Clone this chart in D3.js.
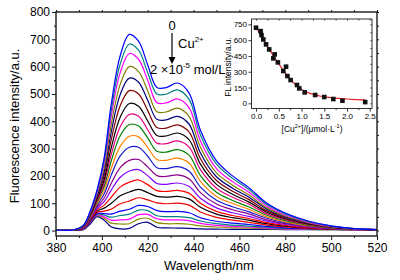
<!DOCTYPE html>
<html>
<head>
<meta charset="utf-8">
<script src="https://cdn.jsdelivr.net/npm/d3@7"></script>
<style>
  html, body { margin: 0; padding: 0; background: #fff; }
  svg { display: block; font-family: "Liberation Sans", Arial, sans-serif; }
</style>
</head>
<body>
<div id="chart"></div>
<script>
// ---- fluorescence spectra, top curve (0 Cu2+) to bottom ----
const WAVELENGTHS = [380,388,392,395,398,401,404,408,412,416,420,424,428,433,438,443,450,457,464,472,480,490,500,510,520];

const SPECTRA = [
  [2,3,20,73,152,266,457,640,718,693,606,524,523,540,504,367,255,200,158,100,64,35,17,7,3],
  [2,3,20,71,147,255,435,609,683,660,578,500,499,515,481,350,243,191,151,95,61,33,16,7,3],
  [2,3,19,69,142,244,413,578,648,627,550,468,467,482,450,328,227,179,141,89,57,31,15,7,3],
  [2,3,18,66,135,229,384,535,600,582,511,435,434,448,418,305,211,166,131,83,53,29,14,7,3],
  [2,3,17,63,130,215,357,498,558,543,477,407,405,418,390,284,197,155,123,78,50,28,14,6,3],
  [2,3,16,60,123,201,329,457,512,500,439,377,375,387,361,263,183,144,114,72,46,26,13,6,3],
  [2,3,15,58,117,186,300,415,465,455,401,348,346,357,333,243,169,133,105,67,43,24,12,6,3],
  [2,3,14,55,111,173,275,380,425,418,369,320,318,328,306,223,155,122,97,61,40,22,11,6,3],
  [2,3,14,53,106,161,252,347,388,383,339,290,287,296,276,201,140,110,87,56,36,20,10,5,3],
  [2,3,13,50,100,147,225,308,345,343,304,260,257,265,247,180,125,99,78,50,32,18,10,5,3],
  [2,3,12,48,94,134,201,273,305,305,272,230,227,234,218,159,111,87,69,45,29,17,9,5,3],
  [2,3,11,45,87,119,171,230,257,260,233,201,198,204,190,139,97,76,61,39,25,15,8,5,3],
  [2,3,10,43,82,106,147,195,218,223,201,172,169,174,162,118,83,65,52,34,22,13,7,4,3],
  [2,3,9,40,76,93,121,159,177,185,168,146,143,147,137,100,70,55,44,29,19,11,7,4,3],
  [2,3,9,38,71,82,99,127,141,151,139,125,122,125,116,85,60,47,38,25,16,10,6,4,3],
  [2,3,8,36,67,71,78,98,108,120,112,101,98,100,93,68,48,38,30,20,13,8,5,3,3],
  [2,3,7,34,62,62,60,71,78,92,88,73,69,70,65,47,34,27,22,15,10,7,5,3,3],
  [2,3,7,33,60,56,49,55,60,75,73,54,51,51,47,35,25,20,16,12,8,6,4,3,3],
  [2,3,7,32,57,50,38,39,42,58,59,43,39,39,36,26,19,15,13,9,6,5,4,3,3],
  [2,3,6,31,55,45,27,24,25,42,45,29,25,25,23,17,13,10,9,7,5,4,3,3,3],
  [1,1,3,25,51,38,14,6,8,25,30,12,10,9,8,6,5,4,4,4,3,3,3,3,3]
];

const COLORS = [
  "#0000ff","#008080","#ff00ff","#808000","#000080","#800000","#000000",
  "#e6007e","#008000","#ff8000","#1a1acd","#8b008b","#8000ff","#ff0000",
  "#000000","#ee0000","#0000ff","#008080","#ff00ff","#8c8c00","#000080"
];

const X_TICKS = [380,400,420,440,460,480,500,520];
const Y_TICKS = [0,100,200,300,400,500,600,700,800];

// ---- inset: FL intensity vs [Cu2+] ----
const INSET_CONC = [0,0.1,0.12,0.16,0.22,0.29,0.38,0.41,0.48,0.6,0.66,0.69,0.76,0.9,0.95,1.07,1.3,1.5,1.7,1.9,2.4];
const INSET_FL   = [718,686,648,607,560,512,427,465,389,307,348,259,221,174,142,104,79,60,41,25,12];
const FIT_CONC   = [0,0.1,0.2,0.3,0.4,0.5,0.6,0.7,0.8,0.9,1.0,1.2,1.4,1.6,1.8,2.0,2.2,2.4];
const FIT_FL     = [722,650,578,508,440,375,313,257,207,165,132,92,70,56,47,41,36,32];
const INSET_X_TICKS = [0,0.5,1.0,1.5,2.0,2.5];
const INSET_Y_TICKS = [0,150,300,450,600,750];

const W = 400, H = 280;
const AXIS = "#1a1a1a";

const svg = d3.select("#chart").append("svg")
  .attr("width", W)
  .attr("height", H);

drawMain();
drawInset();

function drawMain() {
  const x = d3.scaleLinear().domain([380, 520]).range([56, 377]);
  const y = d3.scaleLinear().domain([-20, 800]).range([236, 12]);

  const line = d3.line()
    .x((d, i) => x(WAVELENGTHS[i]))
    .y(d => y(d))
    .curve(d3.curveCatmullRom.alpha(0.5));

  const g = svg.append("g");

  // curves, bottom first
  for (let i = SPECTRA.length - 1; i >= 0; i--) {
    g.append("path")
      .attr("d", line(SPECTRA[i]))
      .attr("fill", "none")
      .attr("stroke", COLORS[i])
      .attr("stroke-width", 1.2);
  }

  // frame
  svg.append("rect")
    .attr("x", 56).attr("y", 12)
    .attr("width", 321).attr("height", 224)
    .attr("fill", "none")
    .attr("stroke", AXIS)
    .attr("stroke-width", 1.4);

  // bottom axis
  const xAxis = svg.append("g")
    .attr("transform", "translate(0,236)")
    .call(d3.axisBottom(x).tickValues(X_TICKS).tickSize(4).tickPadding(3).tickSizeOuter(0));
  svg.append("g")
    .attr("transform", "translate(0,236)")
    .call(d3.axisBottom(x).tickValues(d3.range(390, 520, 20)).tickSize(2).tickFormat("").tickSizeOuter(0));

  // left axis
  const yAxis = svg.append("g")
    .attr("transform", "translate(56,0)")
    .call(d3.axisLeft(y).tickValues(Y_TICKS).tickSize(4).tickPadding(2).tickSizeOuter(0));
  svg.append("g")
    .attr("transform", "translate(56,0)")
    .call(d3.axisLeft(y).tickValues(d3.range(50, 800, 100)).tickSize(2).tickFormat("").tickSizeOuter(0));

  // mirrored ticks top / right
  svg.append("g")
    .attr("transform", "translate(0,12)")
    .call(d3.axisTop(x).tickValues(d3.range(380, 521, 10)).tickSize(2).tickFormat("").tickSizeOuter(0));
  svg.append("g")
    .attr("transform", "translate(377,0)")
    .call(d3.axisRight(y).tickValues(d3.range(0, 801, 50)).tickSize(2).tickFormat("").tickSizeOuter(0));

  svg.selectAll(".domain").remove();
  svg.selectAll(".tick line").attr("stroke", AXIS).attr("stroke-width", 1);
  xAxis.selectAll("text").attr("font-size", 12).attr("fill", "#000")
    .attr("font-family", "Liberation Sans, Arial, sans-serif");
  yAxis.selectAll("text").attr("font-size", 12).attr("fill", "#000")
    .attr("font-family", "Liberation Sans, Arial, sans-serif");

  // axis titles
  svg.append("text")
    .attr("x", 209).attr("y", 270)
    .attr("text-anchor", "middle")
    .attr("font-size", 13)
    .text("Wavelength/nm");

  svg.append("text")
    .attr("transform", "translate(19,126) rotate(-90)")
    .attr("text-anchor", "middle")
    .attr("font-size", 13)
    .text("Fluorescence intensity/a.u.");

  // annotation: 0 -> Cu2+ -> 2x10-5 mol/L
  svg.append("text")
    .attr("x", 172).attr("y", 30)
    .attr("text-anchor", "middle")
    .attr("font-size", 13)
    .text("0");

  svg.append("line")
    .attr("x1", 172).attr("y1", 33)
    .attr("x2", 172).attr("y2", 58)
    .attr("stroke", "#000")
    .attr("stroke-width", 1.2);
  svg.append("path")
    .attr("d", "M168.5,57 L175.5,57 L172,64 Z")
    .attr("fill", "#000");

  const cu = svg.append("text")
    .attr("x", 178).attr("y", 48)
    .attr("font-size", 13);
  cu.append("tspan").text("Cu");
  cu.append("tspan").attr("dy", -6).attr("font-size", 8).text("2+");

  const conc = svg.append("text")
    .attr("x", 150).attr("y", 74)
    .attr("font-size", 13);
  conc.append("tspan").text("2 \u00d710");
  conc.append("tspan").attr("dy", -6).attr("font-size", 8).text("-5");
  conc.append("tspan").attr("dy", 6).text(" mol/L");
}

function drawInset() {
  const x = d3.scaleLinear().domain([-0.1, 2.55]).range([251.5, 372]);
  const y = d3.scaleLinear().domain([-50, 800]).range([108.6, 19.1]);

  const g = svg.append("g");

  g.append("rect")
    .attr("x", 251.5).attr("y", 19)
    .attr("width", 120.5).attr("height", 89.5)
    .attr("fill", "#fff")
    .attr("stroke", "#333")
    .attr("stroke-width", 1);

  const fit = d3.line()
    .x((d, i) => x(FIT_CONC[i]))
    .y(d => y(d))
    .curve(d3.curveMonotoneX);

  g.append("path")
    .attr("d", fit(FIT_FL))
    .attr("fill", "none")
    .attr("stroke", "#e8202a")
    .attr("stroke-width", 1.2);

  g.selectAll("rect.pt")
    .data(INSET_FL)
    .enter()
    .append("rect")
    .attr("class", "pt")
    .attr("x", (d, i) => x(INSET_CONC[i]) - 2.3)
    .attr("y", d => y(d) - 2.3)
    .attr("width", 4.6)
    .attr("height", 4.6)
    .attr("fill", "#111");

  const xa = g.append("g")
    .attr("transform", "translate(0,108.6)")
    .call(d3.axisBottom(x).tickValues(INSET_X_TICKS).tickSize(3).tickPadding(2)
      .tickFormat(d3.format(".1f")).tickSizeOuter(0));
  g.append("g")
    .attr("transform", "translate(0,108.6)")
    .call(d3.axisBottom(x).tickValues([0.25,0.75,1.25,1.75,2.25]).tickSize(1.5).tickFormat("").tickSizeOuter(0));

  const ya = g.append("g")
    .attr("transform", "translate(251.5,0)")
    .call(d3.axisLeft(y).tickValues(INSET_Y_TICKS).tickSize(3).tickPadding(1.5).tickSizeOuter(0));

  // mirrored ticks
  g.append("g")
    .attr("transform", "translate(0,19)")
    .call(d3.axisBottom(x).tickValues(d3.range(0, 2.51, 0.25)).tickSize(1.5).tickFormat("").tickSizeOuter(0));
  g.append("g")
    .attr("transform", "translate(372,0)")
    .call(d3.axisLeft(y).tickValues(d3.range(0, 751, 75)).tickSize(1.5).tickFormat("").tickSizeOuter(0));

  g.selectAll(".domain").remove();
  g.selectAll(".tick line").attr("stroke", "#333");
  xa.selectAll("text").attr("font-size", 8).attr("fill", "#000")
    .attr("font-family", "Liberation Sans, Arial, sans-serif");
  ya.selectAll("text").attr("font-size", 8).attr("fill", "#000")
    .attr("font-family", "Liberation Sans, Arial, sans-serif");

  // inset titles
  g.append("text")
    .attr("transform", "translate(231,67) rotate(-90)")
    .attr("text-anchor", "middle")
    .attr("font-size", 8.5)
    .text("FL intensity/a.u.");

  const lab = g.append("text")
    .attr("x", 312).attr("y", 132)
    .attr("text-anchor", "middle")
    .attr("font-size", 8.5);
  lab.append("tspan").text("[Cu");
  lab.append("tspan").attr("dy", -4).attr("font-size", 5.5).text("2+");
  lab.append("tspan").attr("dy", 4).text("]/(\u03bcmol\u00b7L");
  lab.append("tspan").attr("dy", -4).attr("font-size", 5.5).text("-1");
  lab.append("tspan").attr("dy", 4).text(")");
}
</script>
</body>
</html>
